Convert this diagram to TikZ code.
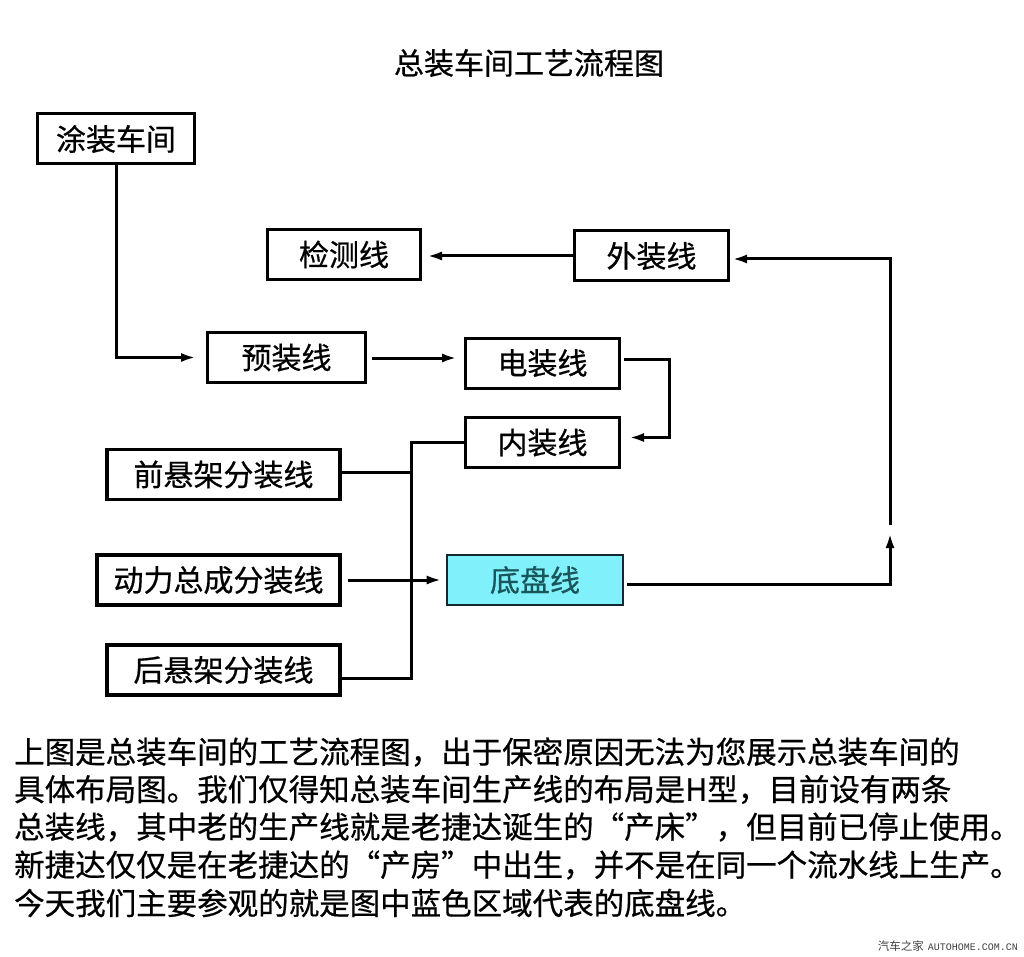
\documentclass[tikz,border=0pt]{standalone}
\usepackage{fontspec}
\setmainfont{Noto Sans CJK SC}[FakeBold=0.6]
\newfontfamily\wmmono{Liberation Mono}
\newfontfamily\wmcjk{Noto Sans CJK SC}
\usetikzlibrary{arrows.meta}
\definecolor{chassis}{RGB}{128,240,250}
\definecolor{chassistext}{RGB}{25,85,90}
\definecolor{chassisline}{RGB}{20,40,50}
\newcommand\zlq{\makebox[1em][r]{“}}
\newcommand\zrq{\makebox[1em][l]{”}}
\begin{document}
\begin{tikzpicture}[x=1pt,y=-1pt,
  box/.style={draw, line width=3pt, minimum width=#1, minimum height=50pt, inner sep=0pt,
    font=\fontsize{30}{30}\selectfont},
  subbox/.style={box=#1, line width=3.6pt},
  conn/.style={line width=3pt},
  arr/.style={-{Latex[length=15pt,width=9pt]}},
  para/.style={anchor=west, inner sep=0pt, font=\fontsize{30.5}{30.5}\selectfont}]
\useasboundingbox (0,0) rectangle (1024,957);
\fill[white] (0,0) rectangle (1024,957);

\node[inner sep=0pt, font=\fontsize{30}{30}\selectfont] (title) at (529,63) {总装车间工艺流程图};

\node[box=157pt] (tz) at (116,139) {涂装车间};
\node[box=153pt] (jc) at (344,254.5) {检测线};
\node[box=154pt] (wz) at (651.5,256) {外装线};
\node[box=158pt] (yz) at (286.5,357.5) {预装线};
\node[box=154pt] (dz) at (542.5,363) {电装线};
\node[box=154pt] (nz) at (542.5,442.5) {内装线};
\node[subbox=233pt] (qx) at (223.5,474.5) {前悬架分装线};
\node[subbox=243pt] (dl) at (218.5,580) {动力总成分装线};
\node[box=176pt, line width=2.6pt, draw=chassisline, fill=chassis, text=chassistext] (dp) at (535,580) {底盘线};
\node[subbox=233pt] (hx) at (223.5,670) {后悬架分装线};

\coordinate (bus) at (411,0);
\coordinate (gapA) at (890,533);
\coordinate (gapB) at (890,525);

\draw[conn,arr,shorten >=10pt] (tz.south) |- (yz.west);
\draw[conn,arr,shorten <=5pt,shorten >=7pt] ([yshift=-0.5pt]yz.east) -- ([yshift=-0.5pt]yz.east -| dz.west);
\draw[conn,arr,shorten <=3pt,shorten >=8pt] ([yshift=4pt]dz.east) -- ++(48,0) |- ([yshift=5pt]nz.east);
\draw[conn] ([yshift=2pt]qx.east) -- ([yshift=2pt]qx.east -| bus);
\draw[conn] ([yshift=-8pt]hx.east) -| (bus |- nz.west) -- (nz.west);
\draw[conn,arr,shorten <=6pt,shorten >=4pt] (dl.east) -- (dp.west);
\draw[conn,arr,shorten <=3pt] ([yshift=-4pt]dp.east) -| (gapA);
\draw[conn,arr,shorten >=2pt] (gapB) |- ([yshift=-3pt]wz.east);
\draw[conn,arr,shorten >=5pt] (wz.west) -- (wz.west -| jc.east);

\node[para] (p1) at (14,752) {上图是总装车间的工艺流程图，出于保密原因无法为您展示总装车间的};
\node[para] (p2) at (14,789.5) {具体布局图。我们仅得知总装车间生产线的布局是H型，目前设有两条};
\node[para] (p3) at (14,827) {总装线，其中老的生产线就是老捷达诞生的\zlq 产床\zrq ，但目前已停止使用。};
\node[para] (p4) at (14,865) {新捷达仅仅是在老捷达的\zlq 产房\zrq 中出生，并不是在同一个流水线上生产。};
\node[para] (p5) at (14,903) {今天我们主要参观的就是图中蓝色区域代表的底盘线。};

\node[anchor=east, inner sep=0pt, text=black!75, font=\wmcjk\fontsize{11.5}{12}\selectfont] (wm) at (1018,946) {汽车之家\hspace{4pt}{\wmmono\fontsize{10}{12}\selectfont AUTOHOME.COM.CN}};
\end{tikzpicture}
\end{document}
